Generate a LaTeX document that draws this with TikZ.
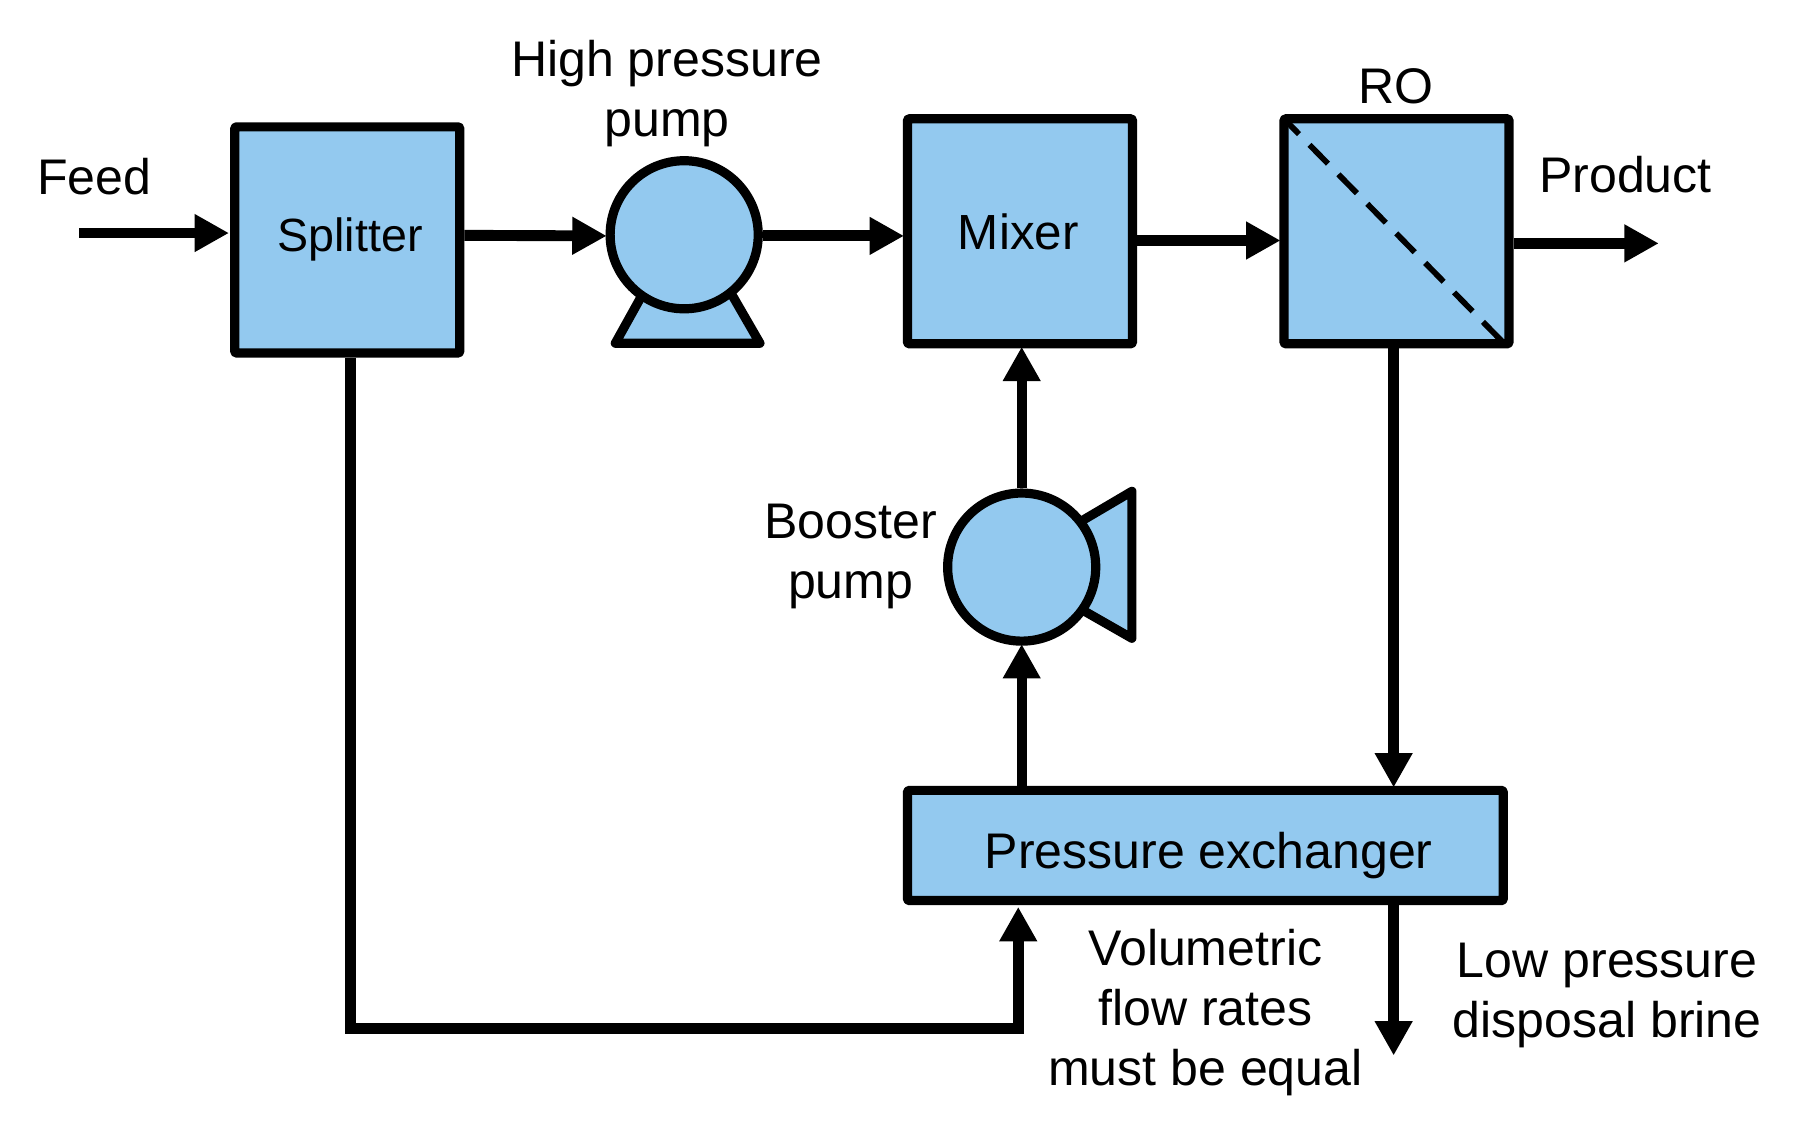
\documentclass[tikz,border=0pt]{standalone}
\usepackage{fontspec}
\setmainfont{Liberation Sans}
\usetikzlibrary{arrows.meta,calc}
\definecolor{unitblue}{HTML}{93C9EF}
\tikzset{
  unit/.style={draw=black,fill=unitblue,line width=8pt,rounded corners=1pt,inner sep=0pt,anchor=center,text=black,line join=round},
  pumpbody/.style={circle,draw=black,fill=unitblue,line width=8pt,inner sep=0pt,minimum size=129pt},
  pumpleg/.style={draw=black,fill=unitblue,line width=8pt,line join=round},
  flow/.style={line width=9pt,-{Triangle[length=30pt,width=31pt]},black,shorten >=-1.5pt},
  hflow/.style={line width=9.5pt,-{Triangle[length=30pt,width=31pt]},black},
  tag/.style={align=center,text=black,inner sep=0pt,font=\fontsize{43.6pt}{52pt}\selectfont},
}
\begin{document}
\begin{tikzpicture}[x=1pt,y=-1pt,font=\fontsize{43.6pt}{52pt}\selectfont]
\useasboundingbox (0,0) rectangle (1568,980);
% units
\node[unit,minimum width=196pt,minimum height=197pt] (split) at (302.5,209) {};
\node[tag,font=\fontsize{40.6pt}{48pt}\selectfont] (splittxt) at (305,209) {Splitter};
\node[unit,minimum width=196pt,minimum height=196pt] (mix) at (888.5,201.5) {};
\node[tag,font=\fontsize{43pt}{52pt}\selectfont] (mixtxt) at (887,202) {Mixer};
\node[unit,minimum width=196pt,minimum height=196pt] (ro) at (1216.5,201.5) {};
\begin{scope}
\clip (1120,105) rectangle (1313,298);
\draw[line width=5pt,black,dash pattern=on 23pt off 13pt,dash phase=5pt] (1119,104) -- (1312,301);
\end{scope}
\node[unit,minimum width=519pt,minimum height=96pt] (px) at (1050,736.5) {};
\node[tag] (pxtxt) at (1053,745) {Pressure exchanger};
% high pressure pump
\draw[pumpleg] (536,299) -- (561,254) -- (636,254) -- (662,299) -- cycle;
\node[pumpbody] (hp) at (596,204.5) {};
% booster pump
\draw[pumpleg] (986,428) -- (986,556) -- (930,524) -- (930,461) -- cycle;
\node[pumpbody] (bp) at (890,494) {};
% labels
\node[tag] (lfeed) at (82,154) {Feed};
\node[tag] (lhp) at (581,81.5) {High pressure\\pump};
\node[tag] (lro) at (1216,75) {RO};
\node[tag] (lprod) at (1416,152) {Product};
\node[tag] (lbp) at (741,485) {Booster\\pump};
\node[tag] (lvol) at (1050,882) {Volumetric\\flow rates\\must be equal};
\node[tag] (llow) at (1400,867) {Low pressure\\disposal brine};
% connectors
\coordinate (fstart) at (69,203);
\coordinate (pstart) at (1445,212);
\coordinate (wend) at (1214,918);
\coordinate (recyc) at (305,896);
\draw[hflow] (fstart) -- ($(fstart -| split.west)+(-1,0)$);
\draw[hflow] ($(split.east)+(0,-4)$) -- ($(hp.west)+(1,1)$);
\draw[hflow] ($(hp.east)+(0,1)$) -- ($(hp.east -| mix.west)+(1,1)$);
\draw[hflow] ($(mix.east)+(0,8)$) -- ($(ro.west)+(1,8)$);
\draw[hflow] ($(ro.east)+(0,10.5)$) -- (pstart);
\draw[flow] (bp.north) -- (bp.north |- mix.south);
\draw[flow] (px.north -| bp.south) -- (bp.south);
\draw[flow] (ro.south -| wend) -- (px.north -| wend);
\draw[flow] (px.south -| wend) -- (wend);
\draw[hflow,line join=miter] (split.south -| recyc) -- (recyc) -- (887,896) -- (887,790);
\end{tikzpicture}
\end{document}
